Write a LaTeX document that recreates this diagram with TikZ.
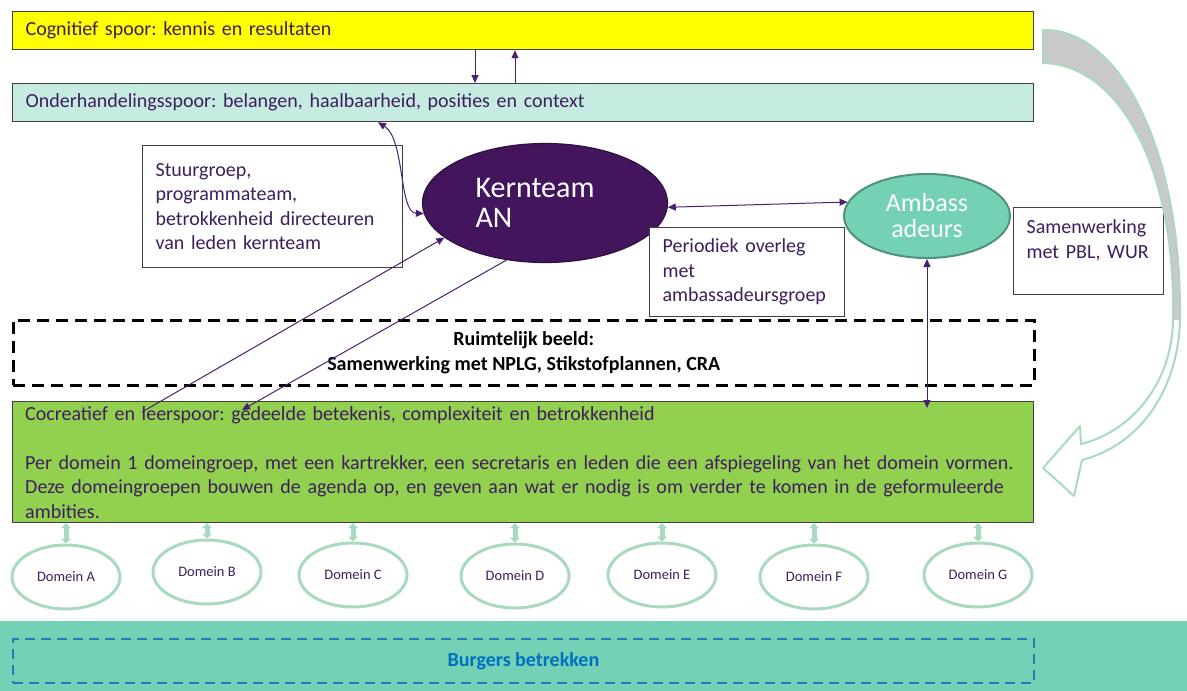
\documentclass[tikz,border=0pt]{standalone}
\usepackage{fontspec}
\setmainfont{Carlito}
\usetikzlibrary{arrows.meta,shapes.geometric}
\definecolor{geel}{HTML}{FFFF00}
\definecolor{lichtmint}{HTML}{C6ECE1}
\definecolor{groen}{HTML}{92D050}
\definecolor{mint}{HTML}{74D1B6}
\definecolor{kernpaars}{HTML}{43155C}
\definecolor{tekstpaars}{HTML}{3E1F5E}
\definecolor{pijlpaars}{HTML}{4B1E6E}
\definecolor{domeingroen}{HTML}{A9D9BE}
\definecolor{barrand}{HTML}{404040}
\definecolor{blauw}{HTML}{0070C0}
\definecolor{blauwrand}{HTML}{2E75B6}
\definecolor{grijs}{HTML}{C9C9C9}
\frenchspacing

\begin{document}
\begin{tikzpicture}[x=1pt, y=-1pt, >={Triangle[length=8pt,width=7pt]}]
  \tikzstyle{bar} = [rectangle, draw=barrand, line width=1.2pt, anchor=north west, minimum width=1021pt,
                     minimum height=38pt, inner xsep=13pt, inner ysep=0pt, text width=995pt, align=left,
                     font=\fontsize{20}{24.5}\selectfont, text=tekstpaars]
  \tikzstyle{tekstvak} = [rectangle, draw=barrand, line width=1.2pt, fill=white, anchor=north west,
                          inner xsep=13pt, inner ysep=0pt, align=left,
                          font=\fontsize{20}{24.5}\selectfont, text=tekstpaars]
  \tikzstyle{stippelvak} = [rectangle, draw=black, line width=2.5pt, dash pattern=on 12pt off 7pt,
                            anchor=north west, minimum width=1021pt, minimum height=65pt, align=center,
                            font=\bfseries\fontsize{20}{25}\selectfont]
  \tikzstyle{domein} = [ellipse, draw=domeingroen, line width=3pt, fill=white, minimum width=108pt,
                        minimum height=64pt, inner sep=0pt, font=\fontsize{14.5}{16}\selectfont, text=tekstpaars]
  \tikzstyle{pijl} = [draw=pijlpaars, line width=1pt]
  \tikzstyle{domeinpijl} = [draw=domeingroen, line width=5pt,
                            {Triangle[length=5pt,width=10pt]}-{Triangle[length=5pt,width=10pt]}]

\useasboundingbox (0,0) rectangle (1187,691);

\node[bar, fill=geel] (cognitief) at (12,11) {Cognitief spoor: kennis en resultaten};
\node[bar, fill=lichtmint] (onderhandeling) at (12,83) {Onderhandelingsspoor: belangen, haalbaarheid, posities en context};
\node[tekstvak, minimum width=260pt, minimum height=122pt, text width=234pt] (stuurgroep) at (142,145)
  {Stuurgroep,\\programmateam,\\betrokkenheid directeuren\\van leden kernteam};
\node[ellipse, draw=kernpaars!70!black, line width=1.2pt, fill=kernpaars, minimum width=245pt, minimum height=119pt,
      align=left, text=white, font=\fontsize{30}{30}\selectfont] (kernteam) at (545,203) {Kernteam\hspace*{20pt}\\AN};
\node[ellipse, draw=mint!70!black, line width=2pt, fill=mint, minimum width=166pt, minimum height=84pt,
      align=center, text=white, font=\fontsize{26}{26}\selectfont] (ambassadeurs) at (927,216) {Ambass\\adeurs};
\node[tekstvak, minimum width=195pt, minimum height=89pt, text width=169pt] (periodiek) at (649,227)
  {Periodiek overleg\\met\\ambassadeursgroep};
\node[tekstvak, minimum width=150pt, minimum height=87pt, text width=124pt] (samenwerking) at (1013,207)
  {Samenwerking\\met PBL, WUR\\~};
\node[stippelvak] (ruimtelijk) at (12,319) {Ruimtelijk beeld:\\Samenwerking met NPLG, Stikstofplannen, CRA};
\node[bar, fill=groen, minimum height=121pt] (cocreatief) at (12,401) {};
\node[anchor=north west, inner sep=0pt, text width=995pt, align=left, text=tekstpaars,
      font=\fontsize{20}{24.5}\selectfont] (cocreatieftekst) at (25,406)
  {Cocreatief en leerspoor: gedeelde betekenis, complexiteit en betrokkenheid\\[24.5pt]
   Per domein 1 domeingroep, met een kartrekker, een secretaris en leden die een afspiegeling van het domein vormen.\\
   Deze domeingroepen bouwen de agenda op, en geven aan wat er nodig is om verder te komen in de geformuleerde\\
   ambities.};

\node[domein] (domA) at (66,577) {Domein A};
\node[domein] (domB) at (207,572) {Domein B};
\node[domein] (domC) at (353,575) {Domein C};
\node[domein] (domD) at (515,576) {Domein D};
\node[domein] (domE) at (662,575) {Domein E};
\node[domein] (domF) at (814,577) {Domein F};
\node[domein] (domG) at (978,575) {Domein G};

\node[rectangle, fill=mint, anchor=north west, minimum width=1187pt, minimum height=70pt, inner sep=0pt] (burgersband) at (0,621) {};
\node[stippelvak, draw=blauwrand, text=blauw, line width=2pt, dash pattern=on 10pt off 6pt, minimum height=44pt] (burgers) at (12,638) {Burgers betrekken};

\coordinate (cocrL) at (142,412);
\coordinate (cocrR) at (242,410);
\coordinate (ambtip) at (927,408);

\draw[pijl, ->] ([xshift=463]cognitief.south west) -- ([xshift=463]onderhandeling.north west);
\draw[pijl, ->] ([xshift=503]onderhandeling.north west) -- ([xshift=503]cognitief.south west);
\draw[pijl, <->] ([xshift=366]onderhandeling.south west) .. controls +(27,17) and +(-25,-1) .. (kernteam.185);
\draw[pijl, <->] (kernteam.358) -- (ambassadeurs.170);
\draw[pijl, <->] (ambassadeurs.south) -- (ambtip);
\draw[pijl, ->] (cocrL) -- (kernteam.199);
\draw[pijl, ->] (kernteam.236) -- (cocrR);

\draw[domeinpijl] (domA.north) -- (domA.north |- cocreatief.south);
\draw[domeinpijl] (domB.north) -- (domB.north |- cocreatief.south);
\draw[domeinpijl] (domC.north) -- (domC.north |- cocreatief.south);
\draw[domeinpijl] (domD.north) -- (domD.north |- cocreatief.south);
\draw[domeinpijl] (domE.north) -- (domE.north |- cocreatief.south);
\draw[domeinpijl] (domF.north) -- (domF.north |- cocreatief.south);
\draw[domeinpijl] (domG.north) -- (domG.north |- cocreatief.south);

\fill[grijs] (1043,30) .. controls (1120,28) and (1182,150) .. (1180,320) -- (1173,320)
  .. controls (1176,160) and (1115,64) .. (1043,63) -- cycle;
\draw[domeingroen, line width=2pt, line join=round] (1043,30) .. controls (1120,28) and (1182,150) .. (1180,320)
  .. controls (1178,390) and (1140,445) .. (1082,460) -- (1074,496) -- (1043,468) -- (1080,426) -- (1081,444)
  .. controls (1130,432) and (1172,385) .. (1173,320) .. controls (1176,160) and (1115,64) .. (1043,63) -- cycle;
\end{tikzpicture}
\end{document}
